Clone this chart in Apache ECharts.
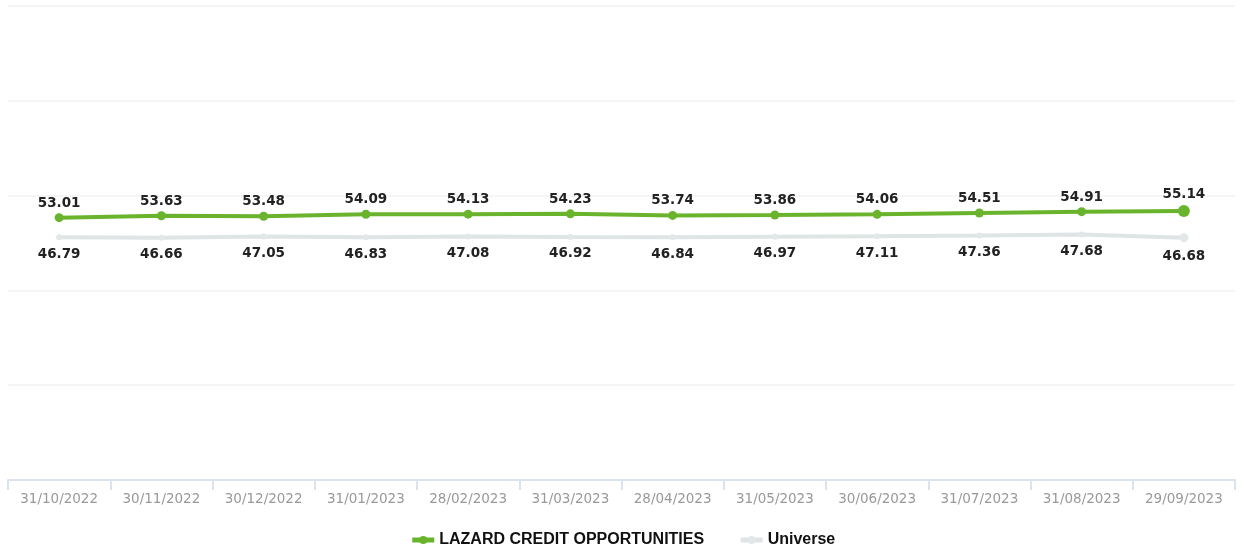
<!DOCTYPE html>
<html>
<head>
<meta charset="utf-8">
<script src="https://cdn.jsdelivr.net/npm/echarts@6/dist/echarts.min.js"></script>
<style>
html,body{margin:0;padding:0;background:#fff;}
#chart{width:1245px;height:547px;}
</style>
</head>
<body>
<div id="chart"></div>
<script>
var categories = ['31/10/2022','30/11/2022','30/12/2022','31/01/2023','28/02/2023','31/03/2023','28/04/2023','31/05/2023','30/06/2023','31/07/2023','31/08/2023','29/09/2023'];
var fundValues = [53.01,53.63,53.48,54.09,54.13,54.23,53.74,53.86,54.06,54.51,54.91,55.14];
var universeValues = [46.79,46.66,47.05,46.83,47.08,46.92,46.84,46.97,47.11,47.36,47.68,46.68];
var seriesNames = ['LAZARD CREDIT OPPORTUNITIES','Universe'];

var chart = echarts.init(document.getElementById('chart'));
var lastIdx = categories.length - 1;
chart.setOption({
  animation: false,
  grid: {left: 8, right: 10, top: 6, bottom: 67, containLabel: false},
  legend: {
    left: 'center', top: 532, padding: 0, itemGap: 34, itemWidth: 22, itemHeight: 10,
    lineStyle: {width: 5},
    textStyle: {fontFamily: 'Liberation Sans', fontWeight: 'bold', fontSize: 16, color: '#111'},
    data: seriesNames
  },
  xAxis: {
    type: 'category', data: categories, boundaryGap: true,
    axisLine: {onZero: false, lineStyle: {color: '#dbe2f0', width: 2}},
    axisTick: {show: true, length: 10, lineStyle: {color: '#dbe2f0', width: 2}},
    axisLabel: {color: '#999999', fontFamily: 'DejaVu Sans', fontSize: 13.5, margin: 12},
    splitLine: {show: false}
  },
  yAxis: {
    type: 'value', min: -30, max: 120, interval: 30,
    axisLabel: {show: false}, axisLine: {show: false}, axisTick: {show: false},
    splitLine: {lineStyle: {color: '#f5f5f5', width: 2}}
  },
  series: [
    {
      name: seriesNames[0], type: 'line', data: fundValues,
      color: '#6ab42d',
      lineStyle: {width: 4, color: '#6ab42d'},
      symbol: 'circle',
      symbolSize: function (v, p) { return p.dataIndex === lastIdx ? 12 : 9; },
      itemStyle: {color: '#6ab42d'},
      label: {show: true, position: 'top', distance: 3, fontFamily: 'DejaVu Sans', fontWeight: 'bold', fontSize: 13.5, color: '#222'},
      z: 3
    },
    {
      name: seriesNames[1], type: 'line', data: universeValues,
      color: '#dce2e2',
      lineStyle: {width: 4, color: '#dfe4e4'},
      symbol: 'circle',
      symbolSize: function (v, p) { return p.dataIndex === lastIdx ? 9 : 6; },
      itemStyle: {color: '#e3e7e7'},
      label: {show: true, position: 'bottom', distance: 7, fontFamily: 'DejaVu Sans', fontWeight: 'bold', fontSize: 13.5, color: '#222'},
      z: 2
    }
  ]
});
</script>
</body>
</html>
